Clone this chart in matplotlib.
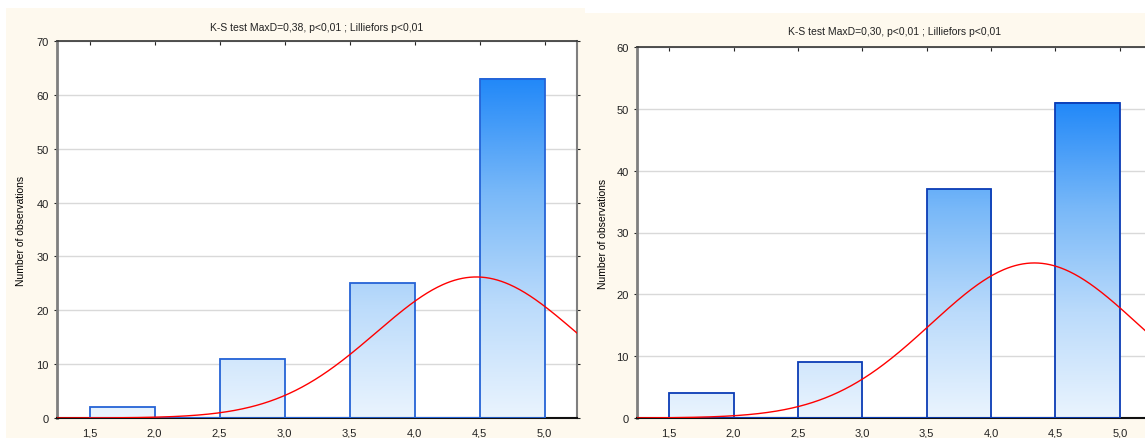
import matplotlib.pyplot as plt
import numpy as np
from matplotlib.colors import LinearSegmentedColormap
from matplotlib.patches import Rectangle

plt.rcParams['font.family'] = ['Liberation Sans', 'DejaVu Sans']

CREAM = '#FEF9EE'
CURVE_COLOR = '#FF0000'
GRID_COLOR = '#D9D9D9'

# Histogram data (bins of width 0.5, only every second bin filled)
bin_edges = [1.5, 2.0, 2.5, 3.0, 3.5, 4.0, 4.5, 5.0]
counts_left = [2, 0, 11, 0, 25, 0, 63]
counts_right = [4, 0, 9, 0, 37, 0, 51]

xtick_values = [1.5, 2.0, 2.5, 3.0, 3.5, 4.0, 4.5, 5.0]
xtick_labels = ['1,5', '2,0', '2,5', '3,0', '3,5', '4,0', '4,5', '5,0']

title_left = 'K-S test MaxD=0,38, p<0,01 ; Lilliefors p<0,01'
title_right = 'K-S test MaxD=0,30, p<0,01 ; Lilliefors p<0,01'
ylabel = 'Number of observations'

gradient = LinearSegmentedColormap.from_list(
    'bar_grad', ['#EAF4FE', '#BBDBFB', '#78B8F8', '#2188F8'])

W, H = 1145, 439
fig = plt.figure(figsize=(W / 100, H / 100), dpi=100)
fig.patch.set_facecolor('white')

# cream panel backgrounds
fig.patches.append(Rectangle((6 / W, 0), (585 - 6) / W, (H - 9) / H, linewidth=0,
                             transform=fig.transFigure, facecolor=CREAM, zorder=-5))
fig.patches.append(Rectangle((585 / W, 0), (W - 585) / W, (H - 14) / H, linewidth=0,
                             transform=fig.transFigure, facecolor=CREAM, zorder=-5))


def draw_panel(rect, counts, ymax, title, edge_color, title_y, label_x):
    ax = fig.add_axes(rect)
    ax.set_facecolor('white')
    xlim = (1.25, 5.25)
    hmax = max(counts)

    for i, c in enumerate(counts):
        x0, x1 = bin_edges[i], bin_edges[i + 1]
        if c > 0:
            grad = np.linspace(0, c / hmax, 256).reshape(-1, 1)
            ax.imshow(grad, extent=[x0, x1, 0, c], origin='lower', aspect='auto',
                      cmap=gradient, vmin=0, vmax=1, zorder=2)
            ax.add_patch(Rectangle((x0, 0), x1 - x0, c, fill=False,
                                   edgecolor=edge_color, linewidth=1.3, zorder=3))
        else:
            ax.plot([x0, x1], [0, 0], color=edge_color, linewidth=1.5, zorder=3)

    # fitted normal curve (expected counts per 0.5 bin)
    values = np.repeat([2, 3, 4, 5], [counts[0], counts[2], counts[4], counts[6]])
    mu = values.mean()
    sd = values.std(ddof=1)
    xs = np.linspace(xlim[0], xlim[1], 400)
    ys = len(values) * 0.5 * np.exp(-0.5 * ((xs - mu) / sd) ** 2) / (sd * np.sqrt(2 * np.pi))
    ax.plot(xs, ys, color=CURVE_COLOR, linewidth=1.0, zorder=4)

    ax.set_xlim(*xlim)
    ax.set_ylim(0, ymax)
    ax.set_xticks(xtick_values)
    ax.set_xticklabels(xtick_labels)
    ax.set_yticks(np.arange(0, ymax + 1, 10))
    ax.yaxis.grid(True, color=GRID_COLOR, linewidth=1)
    ax.set_axisbelow(True)
    ax.tick_params(axis='both', labelsize=8, colors='#222222', length=3,
                   top=True, right=True, direction='in')
    ax.tick_params(axis='x', bottom=False, pad=7)
    ax.tick_params(axis='y', left=True, direction='out', length=2, pad=4)

    ax.spines['left'].set_color('#7F7F7F')
    ax.spines['left'].set_linewidth(2)
    ax.spines['right'].set_color('#7F7F7F')
    ax.spines['right'].set_linewidth(1.5)
    ax.spines['top'].set_color('#333333')
    ax.spines['top'].set_linewidth(1.2)
    ax.spines['bottom'].set_color('#111111')
    ax.spines['bottom'].set_linewidth(1.5)

    ax.set_ylabel(ylabel, fontsize=7.5)
    ax.yaxis.set_label_coords(label_x, 0.5)
    fig.text(rect[0] + rect[2] / 2, title_y, title, ha='center', va='center',
             fontsize=7.5, color='#222222')
    return ax


bottom = (H - 419) / H
ax1 = draw_panel([57 / W, bottom, 520 / W, (419 - 42) / H], counts_left, 70,
                 title_left, '#2563D6', 1 - 28 / H, -0.060)
ax2 = draw_panel([637 / W, bottom, 515 / W, (419 - 48) / H], counts_right, 60,
                 title_right, '#0B3CB5', 1 - 32 / H, -0.056)

plt.savefig('out.png', dpi=100)
